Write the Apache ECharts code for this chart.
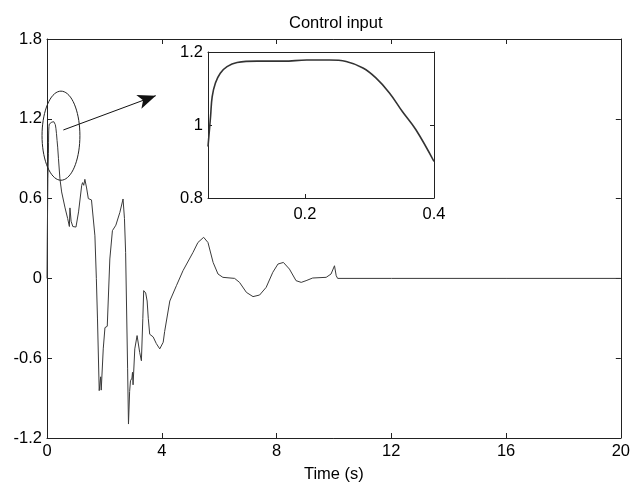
<!DOCTYPE html>
<html>
<head>
<meta charset="utf-8">
<script src="https://cdn.jsdelivr.net/npm/echarts@6/dist/echarts.min.js"></script>
<style>
    html, body {margin: 0; padding: 0; background: #fff;}
    #main {width: 633px; height: 488px;}
</style>
</head>
<body>
<div id="main"></div>
<script>
// start of the response (jump from 0)
const startTime = [0, 0.01, 0.03];
const startInput = [0, 0.3, 0.75];

// part shown in the zoomed inset
const zoomTime = [0.05, 0.054, 0.0565, 0.0615, 0.069, 0.0795, 0.095, 0.126, 0.167, 0.203,
    0.238, 0.264, 0.29, 0.31, 0.331, 0.351, 0.372, 0.4];
const zoomInput = [0.941, 1.024, 1.078, 1.115, 1.142, 1.160, 1.171, 1.175, 1.175, 1.178,
    1.178, 1.174, 1.156, 1.129, 1.088, 1.037, 0.987, 0.900];

// rest of the control input
const restTime = [0.45, 0.51, 0.63, 0.72, 0.78, 0.8, 0.84, 0.9, 1.01, 1.1, 1.21, 1.24, 1.28, 1.32,
    1.38, 1.44, 1.55, 1.58, 1.67, 1.72, 1.76, 1.82, 1.85, 1.87, 1.89, 1.96, 2.02, 2.10, 2.19,
    2.28, 2.40, 2.54, 2.65, 2.70, 2.74, 2.81, 2.84, 2.88, 2.91, 2.96, 2.98, 3.0, 3.06, 3.14,
    3.23, 3.29, 3.34, 3.37, 3.44, 3.49, 3.53, 3.58, 3.70, 3.81, 3.93, 4.05, 4.10, 4.28, 4.51,
    4.74, 5.09, 5.26, 5.46, 5.61, 5.79, 5.96, 6.13, 6.54, 6.71, 6.95, 7.18, 7.41, 7.64, 7.87,
    8.05, 8.24, 8.45, 8.68, 8.86, 9.03, 9.26, 9.73, 9.90, 10.02, 10.08, 10.13, 12, 16, 20];
const restInput = [0.75, 0.65, 0.53, 0.45, 0.39, 0.53, 0.43, 0.39, 0.386, 0.5, 0.70, 0.72, 0.70, 0.745,
    0.68, 0.60, 0.59, 0.584, 0.32, 0.0, -0.305, -0.844, -0.84, -0.74, -0.84, -0.53, -0.37, -0.36, 0.146,
    0.359, 0.40, 0.497, 0.597, 0.45, 0.196, -0.68, -1.095, -0.85, -0.77, -0.75, -0.706, -0.8, -0.53, -0.43,
    -0.556, -0.619, -0.3, -0.092, -0.11, -0.17, -0.3, -0.42, -0.44, -0.49, -0.53, -0.48, -0.40, -0.17, -0.055,
    0.058, 0.196, 0.27, 0.309, 0.27, 0.12, 0.033, 0.008, 0.0, -0.03, -0.105, -0.137, -0.125, -0.067, 0.046,
    0.108, 0.12, 0.07, -0.017, -0.03, -0.017, 0.003, 0.008, 0.033, 0.095, 0.02, 0.0, 0, 0, 0];

const mainTime = startTime.concat(zoomTime, restTime);
const mainInput = startInput.concat(zoomInput, restInput);

const fontFamily = 'Liberation Sans, Arial, Helvetica, sans-serif';
const fontSize = 16.5;
const axisColor = '#222';

function fmt(v) {
    return String(parseFloat(v.toFixed(1)));
}

function pairs(xs, ys) {
    return xs.map((x, i) => [x, ys[i]]);
}

const chart = echarts.init(document.getElementById('main'));

const boxAxis = (extra) => Object.assign({
    type: 'value',
    axisLine: {show: true, onZero: false, lineStyle: {color: axisColor, width: 1}},
    axisTick: {show: true, inside: true, length: 5, lineStyle: {color: axisColor}},
    splitLine: {show: false},
    axisLabel: {show: false}
}, extra);

const labelStyle = {show: true, color: '#000', fontSize: fontSize, fontFamily: fontFamily};

const option = {
    animation: false,
    backgroundColor: '#fff',
    title: {
        text: 'Control input',
        left: 284,
        top: 10,
        textStyle: {fontSize: fontSize, fontWeight: 'normal', color: '#000', fontFamily: fontFamily}
    },
    grid: [
        {left: 47, right: 10, top: 39, bottom: 49},
        {left: 208, right: 199, top: 52, bottom: 290}
    ],
    xAxis: [
        boxAxis({gridIndex: 0, min: 0, max: 20, interval: 4, position: 'bottom',
            axisLabel: Object.assign({margin: 5}, labelStyle),
            name: 'Time (s)', nameLocation: 'middle', nameGap: 28,
            nameTextStyle: {fontSize: fontSize, color: '#000', fontFamily: fontFamily}}),
        boxAxis({gridIndex: 0, min: 0, max: 20, interval: 4, position: 'top'}),
        boxAxis({gridIndex: 1, min: 0.05, max: 0.4, position: 'bottom',
            axisTick: {show: true, inside: true, length: 4, customValues: [0.2, 0.4], lineStyle: {color: axisColor}},
            axisLabel: Object.assign({margin: 8, customValues: [0.2, 0.4], formatter: fmt}, labelStyle)}),
        boxAxis({gridIndex: 1, min: 0.05, max: 0.4, position: 'top',
            axisTick: {show: false}})
    ],
    yAxis: [
        boxAxis({gridIndex: 0, min: -1.2, max: 1.8, interval: 0.6, position: 'left',
            axisLabel: Object.assign({margin: 5, formatter: fmt}, labelStyle)}),
        boxAxis({gridIndex: 0, min: -1.2, max: 1.8, interval: 0.6, position: 'right'}),
        boxAxis({gridIndex: 1, min: 0.8, max: 1.2, interval: 0.2, position: 'left',
            axisTick: {show: true, inside: true, length: 4, lineStyle: {color: axisColor}},
            axisLabel: Object.assign({margin: 5, formatter: fmt}, labelStyle)}),
        boxAxis({gridIndex: 1, min: 0.8, max: 1.2, interval: 0.2, position: 'right',
            axisTick: {show: true, inside: true, length: 4, lineStyle: {color: axisColor}}})
    ],
    series: [
        {
            name: 'Control input',
            type: 'line',
            xAxisIndex: 0,
            yAxisIndex: 0,
            data: pairs(mainTime, mainInput),
            showSymbol: false,
            lineStyle: {color: '#3a3a3a', width: 1},
            markLine: {
                silent: true,
                symbol: ['none', 'arrow'],
                symbolSize: [11, 18],
                label: {show: false},
                lineStyle: {color: '#111', width: 1, type: 'solid'},
                data: [[{coord: [0.57, 1.116]}, {coord: [3.79, 1.374]}]]
            }
        },
        {
            name: 'zoom',
            type: 'line',
            xAxisIndex: 2,
            yAxisIndex: 2,
            data: pairs(zoomTime, zoomInput),
            showSymbol: false,
            smooth: 0.4,
            lineStyle: {color: '#333', width: 1.6}
        }
    ]
};

chart.setOption(option);

// ellipse marking the zoomed region
const ellCenter = [0.487, 1.073];
const ellRadius = [0.66, 0.335];
const c = chart.convertToPixel({gridIndex: 0}, ellCenter);
const e = chart.convertToPixel({gridIndex: 0}, [ellCenter[0] + ellRadius[0], ellCenter[1] + ellRadius[1]]);
const rx = Math.abs(e[0] - c[0]);
const ry = Math.abs(e[1] - c[1]);
const ellPoints = [];
for (let k = 0; k <= 72; k++) {
    const a = k / 72 * Math.PI * 2;
    ellPoints.push([c[0] + rx * Math.cos(a), c[1] + ry * Math.sin(a)]);
}
chart.setOption({
    graphic: [{
        type: 'polyline',
        silent: true,
        z: 10,
        shape: {points: ellPoints},
        style: {stroke: '#222', lineWidth: 1, fill: null}
    }]
});
</script>
</body>
</html>
